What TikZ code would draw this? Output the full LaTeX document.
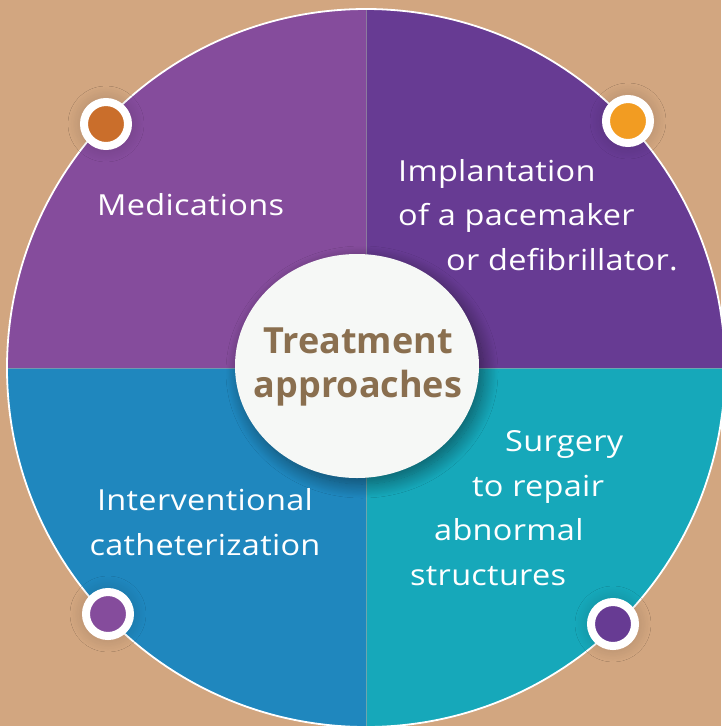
\documentclass[tikz,border=0pt]{standalone}
\usepackage{fontspec}
\setmainfont{Open Sans}
\newfontfamily\labelfont[FakeStretch=1.12, LetterSpace=1]{Open Sans}
\usepackage{xcolor}
\usepackage{tikz}
\usetikzlibrary{positioning,shapes.geometric,shadows.blur}
\definecolor{sand}{HTML}{D2A680}
\definecolor{medplum}{HTML}{854C9C}
\definecolor{implgrape}{HTML}{673B93}
\definecolor{cathblue}{HTML}{1F87BE}
\definecolor{surgteal}{HTML}{16A8BA}
\definecolor{rust}{HTML}{CA6E2B}
\definecolor{amber}{HTML}{F29C22}
\definecolor{hubwhite}{HTML}{F6F8F6}
\definecolor{cocoa}{HTML}{8A6F4F}

\tikzset{
    dot/.style={circle, draw=white, line width=8pt, minimum size=44pt, inner sep=0pt,
                blur shadow={shadow xshift=0pt, shadow yshift=0pt, shadow blur steps=30,
                             shadow blur radius=16pt, shadow opacity=20}},
    quadtext/.style={text=white, inner sep=0pt, align=left,
                     font=\labelfont\fontsize{29}{44.5}\selectfont},
    divider/.style={draw=gray!70, opacity=0.6, line width=0.8pt}
}

\begin{document}
\begin{tikzpicture}[x=1pt, y=-1pt]
        \useasboundingbox[fill=sand] (0,0) rectangle (721,726);

        % four quarters of the wheel
        \begin{scope}
            \clip (366,368) circle[radius=359];
            \fill[medplum]   (0,0)     rectangle (366,368);
            \fill[implgrape] (366,0)   rectangle (740,368);
            \fill[cathblue]  (0,368)   rectangle (366,740);
            \fill[surgteal]  (366,368) rectangle (740,740);
            \draw[divider] (366,0) -- (366,740);
            \draw[divider] (0,368) -- (740,368);
        \end{scope}
        \draw[white, line width=1.8pt] (366,368) circle[radius=359];

        % hub
        \node[ellipse, fill=hubwhite, minimum width=244pt, minimum height=224pt,
              inner sep=0pt,
              blur shadow={shadow xshift=5pt, shadow yshift=-6pt, shadow blur steps=24,
                           shadow blur radius=14pt, shadow opacity=45}]
              (hub) at (357,366) {};
        \node[align=center, text=cocoa, inner sep=0pt, anchor=base,
              font=\bfseries\fontsize{36}{44}\selectfont]
              (hublabel) at (358,397) {Treatment\\approaches};

        % markers on the rim
        \node[dot, fill=rust]      (dotmed)  at (106,124) {};
        \node[dot, fill=amber]     (dotimpl) at (628,121) {};
        \node[dot, fill=medplum]   (dotcath) at (108,614) {};
        \node[dot, fill=implgrape] (dotsurg) at (613,624) {};

        % labels (base = last line)
        \node[quadtext, anchor=base west] (med) at (97,215) {Medications};
        \node[quadtext, anchor=base west] (impl) at (398,270)
              {Implantation\\of a pacemaker\\\hspace*{48pt}or defibrillator.};
        \node[quadtext, anchor=base west] (surg) at (410,585)
              {\hspace*{95pt}Surgery\\\hspace*{62pt}to repair\\\hspace*{24pt}abnormal\\structures};
        \node[quadtext, align=center, anchor=base] (cath) at (205,555)
              {Interventional\\catheterization};
    \end{tikzpicture}
\end{document}
